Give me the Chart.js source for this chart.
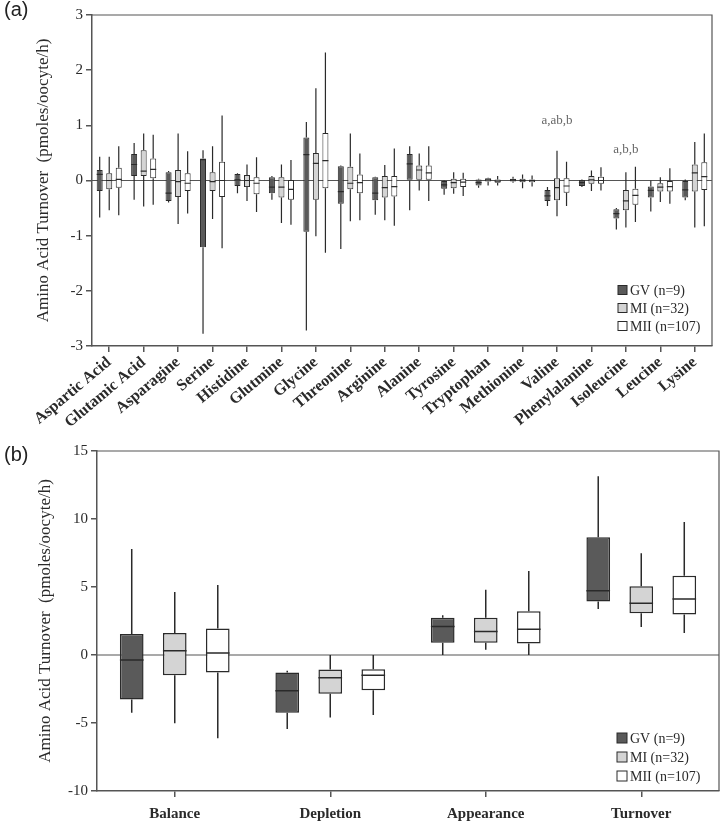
<!DOCTYPE html>
<html>
<head>
<meta charset="utf-8">
<script src="https://cdn.jsdelivr.net/npm/chart.js@4.4.1/dist/chart.umd.min.js"></script>
<style>
  body { margin: 0; background: #fff; width: 722px; height: 826px; position: relative; overflow: hidden; }
  .wrap { position: absolute; left: 0; width: 722px; }
  .tag { position: absolute; left: 4px; font-family: "Liberation Sans", Arial, sans-serif; font-size: 20px; color: #222; }
</style>
</head>
<body>
<div class="wrap" style="top:0;height:436px"><canvas id="chartA" width="722" height="436"></canvas></div>
<div class="wrap" style="top:436px;height:390px"><canvas id="chartB" width="722" height="390"></canvas></div>
<div class="tag" style="top:-2px">(a)</div>
<div class="tag" style="top:443px">(b)</div>
<script>
// each entry: [min, q1, median, q3, max]
const aminoAcids = ['Aspartic Acid', 'Glutamic Acid', 'Asparagine', 'Serine', 'Histidine', 'Glutmine',
  'Glycine', 'Threonine', 'Arginine', 'Alanine', 'Tyrosine', 'Tryptophan', 'Methionine', 'Valine',
  'Phenylalanine', 'Isoleucine', 'Leucine', 'Lysine'];

const gvA = [
  [-0.67, -0.19, 0.11, 0.19, 0.43], [-0.35, 0.08, 0.29, 0.48, 0.68], [-0.40, -0.37, -0.23, 0.15, 0.17],
  [-2.78, -1.21, 0.38, 0.40, 0.55], [-0.23, -0.10, 0.01, 0.12, 0.13], [-0.35, -0.23, -0.12, 0.06, 0.08],
  [-2.72, -0.93, 0.47, 0.78, 1.06], [-1.24, -0.42, -0.20, 0.26, 0.27], [-0.62, -0.36, -0.23, 0.06, 0.07],
  [-0.54, 0.00, 0.30, 0.48, 0.62], [-0.26, -0.15, -0.08, -0.01, 0.00], [-0.13, -0.09, -0.04, 0.02, 0.03],
  [-0.04, -0.02, 0.01, 0.03, 0.07], [-0.46, -0.37, -0.28, -0.17, -0.12], [-0.12, -0.10, -0.04, 0.01, 0.02],
  [-0.89, -0.69, -0.60, -0.52, -0.50], [-0.56, -0.31, -0.18, -0.11, 0.00], [-0.36, -0.31, -0.17, -0.01, 0.02]
];
const miA = [
  [-0.54, -0.16, 0.00, 0.13, 0.43], [-0.47, 0.08, 0.17, 0.55, 0.85], [-0.79, -0.30, -0.02, 0.19, 0.85],
  [-0.70, -0.19, -0.02, 0.15, 0.62], [-0.37, -0.12, 0.00, 0.10, 0.29], [-0.77, -0.31, -0.12, 0.06, 0.29],
  [-1.01, -0.35, 0.31, 0.50, 1.67], [-0.74, -0.16, -0.05, 0.25, 0.85], [-0.72, -0.31, -0.13, 0.08, 0.28],
  [-0.18, 0.00, 0.19, 0.27, 0.49], [-0.24, -0.14, -0.04, 0.03, 0.15], [-0.09, -0.02, 0.01, 0.04, 0.05],
  [-0.14, -0.03, 0.00, 0.03, 0.11], [-0.65, -0.36, -0.13, 0.04, 0.54], [-0.19, -0.06, 0.01, 0.08, 0.18],
  [-0.85, -0.54, -0.37, -0.17, 0.15], [-0.39, -0.20, -0.12, -0.05, 0.06], [-0.85, -0.20, 0.14, 0.29, 0.70]
];
const miiA = [
  [-0.63, -0.13, 0.02, 0.23, 0.62], [-0.44, 0.04, 0.20, 0.40, 0.83], [-0.60, -0.19, -0.05, 0.13, 0.53],
  [-1.23, -0.30, 0.00, 0.34, 1.18], [-0.57, -0.25, -0.05, 0.06, 0.42], [-0.80, -0.35, -0.16, 0.01, 0.37],
  [-1.31, -0.14, 0.36, 0.86, 2.32], [-0.72, -0.23, -0.04, 0.11, 0.49], [-0.82, -0.29, -0.11, 0.08, 0.58],
  [-0.37, 0.00, 0.14, 0.27, 0.62], [-0.28, -0.12, -0.03, 0.03, 0.14], [-0.09, -0.04, -0.01, 0.02, 0.08],
  [-0.11, -0.03, 0.00, 0.02, 0.09], [-0.46, -0.22, -0.10, 0.04, 0.34], [-0.18, -0.06, 0.00, 0.07, 0.24],
  [-0.75, -0.44, -0.27, -0.15, 0.25], [-0.42, -0.20, -0.11, -0.01, 0.22], [-0.83, -0.17, 0.07, 0.33, 0.85]
];
const notesA = [
  { cat: 'Valine', text: 'a,ab,b', y: 0.96 },
  { cat: 'Isoleucine', text: 'a,b,b', y: 0.45 }
];

const measures = ['Balance', 'Depletion', 'Appearance', 'Turnover'];
const gvB = [[-4.24, -3.27, -0.37, 1.54, 7.8], [-5.44, -4.24, -2.63, -1.29, -1.15], [0, 0.9, 2.1, 2.73, 2.93], [3.39, 3.93, 4.73, 8.66, 13.15]];
const miB = [[-5.02, -1.49, 0.32, 1.61, 4.63], [-4.59, -2.85, -1.68, -1.07, 0], [0.39, 0.9, 1.73, 2.73, 4.8], [2.05, 3.07, 3.8, 5.05, 7.49]];
const miiB = [[-6.12, -1.29, 0.15, 1.95, 5.15], [-4.41, -2.59, -1.49, -1.05, 0], [0, 0.85, 1.9, 3.22, 6.17], [1.61, 2.98, 4.12, 5.83, 9.78]];

const groupNames = ['GV (n=9)', 'MI (n=32)', 'MII (n=107)'];
const groupFills = ['#5a5a5a', '#d4d4d4', '#ffffff'];
const SERIF = '"Liberation Serif", "Times New Roman", serif';
const INK = '#2a2a2a';
const AXIS = '#555';

const boxPlugin = {
  id: 'boxes',
  beforeDatasetsDraw(chart) {
    const { ctx, chartArea: a, scales: { y } } = chart;
    ctx.save();
    ctx.strokeStyle = AXIS;
    ctx.lineWidth = 1.2;
    const y0 = y.getPixelForValue(0);
    ctx.beginPath();
    ctx.moveTo(a.left, y0);
    ctx.lineTo(a.right, y0);
    ctx.moveTo(a.left, a.top);
    ctx.lineTo(a.right, a.top);
    ctx.lineTo(a.right, a.bottom);
    ctx.stroke();
    ctx.restore();
  },
  afterDatasetsDraw(chart) {
    const { ctx, scales: { y } } = chart;
    const o = chart.options.plugins.boxes;
    ctx.save();
    ctx.strokeStyle = INK;
    ctx.lineWidth = o.lw;
    chart.data.datasets.forEach((ds, di) => {
      chart.getDatasetMeta(di).data.forEach((el, i) => {
        const s = ds.stats[i];
        const x = el.x, hw = el.width / 2;
        ctx.beginPath();
        ctx.moveTo(x, y.getPixelForValue(s[4]));
        ctx.lineTo(x, y.getPixelForValue(s[3]));
        ctx.moveTo(x, y.getPixelForValue(s[1]));
        ctx.lineTo(x, y.getPixelForValue(s[0]));
        ctx.moveTo(x - hw, y.getPixelForValue(s[2]));
        ctx.lineTo(x + hw, y.getPixelForValue(s[2]));
        ctx.stroke();
      });
    });
    // notes
    ctx.fillStyle = '#666';
    ctx.font = '13px ' + SERIF;
    ctx.textAlign = 'center';
    ctx.textBaseline = 'bottom';
    (o.notes || []).forEach(n => {
      const x = chart.scales.x.getPixelForValue(chart.data.labels.indexOf(n.cat));
      ctx.fillText(n.text, x, y.getPixelForValue(n.y));
    });
    // legend
    const a = chart.chartArea;
    ctx.font = '14px ' + SERIF;
    ctx.textAlign = 'left';
    ctx.textBaseline = 'middle';
    ctx.lineWidth = 1;
    chart.data.datasets.forEach((ds, di) => {
      const lx = a.right - o.legendRight;
      const ly = a.bottom - o.legendBottom + di * o.legendStep;
      ctx.fillStyle = ds.backgroundColor;
      ctx.fillRect(lx, ly - o.sq / 2, o.sq, o.sq);
      ctx.strokeStyle = INK;
      ctx.strokeRect(lx, ly - o.sq / 2, o.sq, o.sq);
      ctx.fillStyle = INK;
      ctx.fillText(ds.label, lx + o.sq + 3, ly + 1);
    });
    ctx.restore();
  }
};

function makeBoxChart(id, labels, statsList, cfg) {
  const datasets = statsList.map((stats, g) => ({
    label: groupNames[g],
    data: stats.map(s => [s[1], s[3]]),
    stats: stats,
    backgroundColor: groupFills[g],
    borderColor: INK,
    borderWidth: cfg.lw,
    borderSkipped: false,
    categoryPercentage: cfg.catPct,
    barPercentage: cfg.barPct
  }));
  return new Chart(document.getElementById(id).getContext('2d'), {
    type: 'bar',
    data: { labels: labels, datasets: datasets },
    options: {
      responsive: false,
      animation: false,
      layout: { padding: { top: 15, right: cfg.padRight, left: 0, bottom: 0 } },
      plugins: {
        legend: { display: false },
        tooltip: { enabled: false },
        boxes: cfg.boxes
      },
      scales: {
        x: {
          grid: { drawOnChartArea: false, offset: false, tickLength: 6, color: AXIS, lineWidth: 1.5 },
          border: { color: AXIS, width: 1.5 },
          ticks: {
            autoSkip: false, maxRotation: cfg.rot, minRotation: cfg.rot, padding: cfg.xPad,
            color: INK, font: { family: SERIF, size: cfg.xSize, weight: 'bold' }
          },
          afterFit: s => { s.height = cfg.xHeight; }
        },
        y: {
          min: cfg.min, max: cfg.max,
          grid: { drawOnChartArea: false, tickLength: 6, color: AXIS, lineWidth: 1.5 },
          border: { color: AXIS, width: 1.5 },
          ticks: { stepSize: cfg.step, padding: 3, color: INK, font: { family: SERIF, size: 15 } },
          title: {
            display: true, text: 'Amino Acid Turnover  (pmoles/oocyte/h)', color: INK,
            font: { family: SERIF, size: 17 }, padding: { top: cfg.titlePad, bottom: 0 }
          },
          afterFit: s => { s.width = cfg.yWidth; }
        }
      }
    },
    plugins: [boxPlugin]
  });
}

makeBoxChart('chartA', aminoAcids, [gvA, miA, miiA], {
  lw: 1, catPct: 0.83, barPct: 0.63, padRight: 10, rot: 40, xPad: 1, xSize: 16, xHeight: 90,
  min: -3, max: 3, step: 1, titlePad: 33, yWidth: 92,
  boxes: { lw: 1.2, notes: notesA, legendRight: 94, legendBottom: 56, legendStep: 18, sq: 9 }
});

makeBoxChart('chartB', measures, [gvB, miB, miiB], {
  lw: 1.5, catPct: 0.83, barPct: 0.55, padRight: 3, rot: 0, xPad: 8, xSize: 15, xHeight: 35,
  min: -10, max: 15, step: 5, titlePad: 35, yWidth: 97,
  boxes: { lw: 1.5, legendRight: 102, legendBottom: 53, legendStep: 19, sq: 10 }
});
</script>
</body>
</html>
